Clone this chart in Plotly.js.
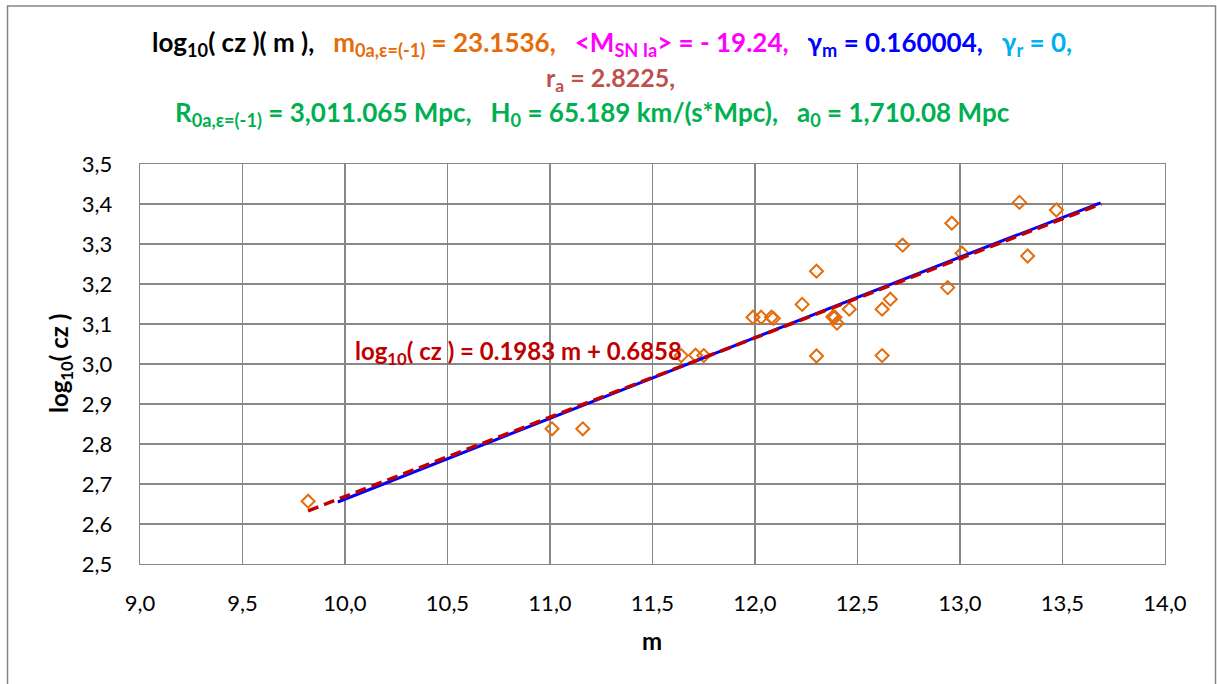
<!DOCTYPE html>
<html>
<head>
<meta charset="utf-8">
<script src="https://cdn.plot.ly/plotly-3.0.1.min.js"></script>
<style>
  html, body { margin: 0; padding: 0; background: #fff; }
  #chart { width: 1217px; height: 684px; }
</style>
</head>
<body>
<div id="chart"></div>
<script>
// Observed supernovae: apparent magnitude m and log10(cz)
const mObs = [9.82, 11.01, 11.16, 11.64, 11.71, 11.75, 11.99, 12.03, 12.08, 12.09,
              12.23, 12.30, 12.30, 12.38, 12.39, 12.40, 12.46, 12.62, 12.62, 12.66,
              12.72, 12.94, 12.96, 13.01, 13.29, 13.33, 13.47];
const logczObs = [2.657, 2.838, 2.838, 3.021, 3.022, 3.021, 3.117, 3.117, 3.117, 3.114,
                  3.149, 3.232, 3.020, 3.118, 3.117, 3.102, 3.137, 3.137, 3.021, 3.162,
                  3.297, 3.191, 3.352, 3.277, 3.404, 3.270, 3.385];

// Model curve log10(cz)(m)
const mModel = [9.965, 11.0, 12.0, 13.0, 13.685];
const logczModel = [2.655, 2.865, 3.066, 3.267, 3.403];

// Linear trend: log10(cz) = slope * m + intercept
const trendSlope = 0.1983;
const trendIntercept = 0.6858;
const trendRange = [9.82, 13.69];

const xTicks = [9.0, 9.5, 10.0, 10.5, 11.0, 11.5, 12.0, 12.5, 13.0, 13.5, 14.0];
const yTicks = [2.5, 2.6, 2.7, 2.8, 2.9, 3.0, 3.1, 3.2, 3.3, 3.4, 3.5];

const W = 1217, H = 684;
const M = { l: 140, r: 52, t: 164, b: 120 };
const px = x => (x - M.l) / (W - M.l - M.r);
const py = y => (H - M.b - y) / (H - M.t - M.b);

const FONT = 'Lato, "Open Sans", sans-serif';
const GRID = '#878787';
const sp = '&nbsp;&nbsp;&nbsp;';

const trendY = trendRange.map(m => trendSlope * m + trendIntercept);

const traces = [
  {
    x: mObs, y: logczObs, type: 'scatter', mode: 'markers',
    marker: { symbol: 'diamond-open', size: 10, color: '#E46C0A', line: { width: 2, color: '#E46C0A' } },
    hoverinfo: 'x+y'
  },
  {
    x: mModel, y: logczModel, type: 'scatter', mode: 'lines',
    line: { color: '#0000FF', width: 3 }
  },
  {
    x: trendRange, y: trendY, type: 'scatter', mode: 'lines',
    line: { color: '#C00000', width: 3.5, dash: '11px,6px' }
  }
];

const line1 =
  '<span style="color:#000000">log<sub>10</sub>( cz )( m ),</span>' + sp +
  '<span style="color:#E46C0A">m<sub>0a,ε=(-1)</sub> = 23.1536,</span>' + sp +
  '<span style="color:#FF00FF">&lt;M<sub>SN Ia</sub>&gt; = - 19.24,</span>' + sp +
  '<span style="color:#0000FF">γ<sub>m</sub> = 0.160004,</span>' + sp +
  '<span style="color:#00B0F0">γ<sub>r</sub> = 0,</span>';
const line2 = '<span style="color:#C0504D">r<sub>a</sub> = 2.8225,</span>';
const line3 =
  '<span style="color:#00B050">R<sub>0a,ε=(-1)</sub> = 3,011.065 Mpc,' + sp +
  'H<sub>0</sub> = 65.189 km/(s*Mpc),&nbsp;&nbsp;&nbsp;a<sub>0</sub> = 1,710.08 Mpc</span>';

const layout = {
  width: W, height: H,
  margin: M,
  paper_bgcolor: '#ffffff', plot_bgcolor: '#ffffff',
  showlegend: false,
  separators: ',.',
  font: { family: FONT, color: '#000' },
  xaxis: {
    range: [9, 14], tickvals: xTicks, tickformat: '.1f',
    showgrid: true, gridcolor: GRID, gridwidth: 1.3,
    showline: true, linecolor: GRID, linewidth: 1.3, mirror: true,
    zeroline: false, ticks: '', ticklabelstandoff: 19,
    tickfont: { family: FONT, size: 22, color: '#000' }
  },
  yaxis: {
    range: [2.5, 3.5], tickvals: yTicks, tickformat: '.1f',
    showgrid: true, gridcolor: GRID, gridwidth: 1.3,
    showline: true, linecolor: GRID, linewidth: 1.3, mirror: true,
    zeroline: false, ticks: '', ticklabelstandoff: 22,
    tickfont: { family: FONT, size: 22, color: '#000' }
  },
  shapes: [
    { type: 'path', xref: 'paper', yref: 'paper',
      path: `M ${px(7.5)} ${py(700)} L ${px(7.5)} ${py(6)} L ${px(1215.5)} ${py(6)} L ${px(1215.5)} ${py(700)}`,
      line: { color: '#868686', width: 1.5 } }
  ],
  annotations: [
    { xref: 'paper', yref: 'paper', x: px(612), y: py(44), xanchor: 'center', yanchor: 'middle',
      text: line1, showarrow: false, font: { family: FONT, size: 26, color: '#000', weight: 'bold' } },
    { xref: 'paper', yref: 'paper', x: px(610), y: py(79), xanchor: 'center', yanchor: 'middle',
      text: line2, showarrow: false, font: { family: FONT, size: 25, weight: 'bold' } },
    { xref: 'paper', yref: 'paper', x: px(592), y: py(113), xanchor: 'center', yanchor: 'middle',
      text: line3, showarrow: false, font: { family: FONT, size: 26, weight: 'bold' } },
    { xref: 'paper', yref: 'paper', x: px(60), y: py(364), xanchor: 'center', yanchor: 'middle',
      textangle: -90, text: 'log<sub>10</sub>( cz )', showarrow: false,
      font: { family: FONT, size: 24, color: '#000', weight: 'bold' } },
    { xref: 'paper', yref: 'paper', x: px(652), y: py(640), xanchor: 'center', yanchor: 'middle',
      text: 'm', showarrow: false, font: { family: FONT, size: 24, color: '#000', weight: 'bold' } },
    { xref: 'paper', yref: 'paper', x: px(353), y: py(352), xanchor: 'left', yanchor: 'middle',
      text: 'log<sub>10</sub>( cz ) = ' + trendSlope.toFixed(4) + ' m + ' + trendIntercept.toFixed(4),
      showarrow: false, font: { family: FONT, size: 24, color: '#C00000', weight: 'bold' } }
  ]
};

Plotly.newPlot('chart', traces, layout, { staticPlot: true, displayModeBar: false });
</script>
</body>
</html>
